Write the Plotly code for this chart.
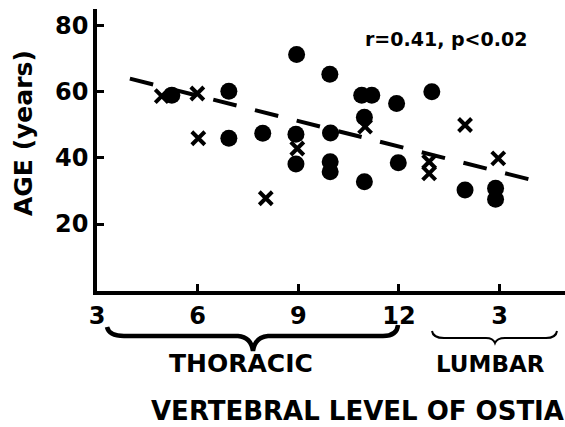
import plotly.graph_objects as go

# ---- data ----
circle_x = [5.23, 6.93, 6.93, 7.94, 8.95, 8.93, 8.93, 9.94, 9.96, 9.95, 9.95,
            10.89, 11.19, 11.93, 12.98, 10.97, 11.98, 10.97, 13.97, 14.88, 14.88]
circle_y = [58.9, 60.1, 45.9, 47.4, 71.2, 47.1, 38.1, 65.2, 47.5, 38.8, 35.8,
            58.9, 58.9, 56.4, 59.9, 52.2, 38.5, 32.8, 30.3, 30.8, 27.5]
cross_x = [4.93, 5.99, 6.02, 8.03, 8.97, 10.99, 12.9, 12.9, 13.97, 14.96]
cross_y = [58.6, 59.4, 45.9, 27.8, 42.8, 49.4, 38.8, 35.3, 49.9, 39.8]
trend_x = [3.98, 16.35]
trend_y = [63.9, 32.3]
x_tick_vals = [3, 6, 9, 12, 15]
x_tick_text = ["3", "6", "9", "12", "3"]
y_tick_vals = [20, 40, 60, 80]

FONT = "DejaVu Sans, Verdana, sans-serif"
W, H = 565, 427
ML, MR, MT, MB = 97, 0, 9, 136
PW, PH = W - ML - MR, H - MT - MB


def px(x):
    return (x - ML) / PW


def py(y):
    return (H - MB - y) / PH


fig = go.Figure()
fig.add_trace(go.Scatter(x=trend_x, y=trend_y, mode="lines",
                         line=dict(color="black", width=4, dash="24px,19px"),
                         hoverinfo="skip"))
fig.add_trace(go.Scatter(x=circle_x, y=circle_y, mode="markers",
                         marker=dict(symbol="circle", size=17, color="black",
                                     line=dict(width=0))))
fig.add_trace(go.Scatter(x=cross_x, y=cross_y, mode="markers",
                         marker=dict(symbol="x-thin", size=13, color="black",
                                     line=dict(width=4, color="black"))))


def path(points, cmds):
    s = ""
    i = 0
    for c in cmds:
        if c in "ML":
            x, y = points[i]
            s += f"{c} {px(x):.4f},{py(y):.4f} "
            i += 1
        elif c == "Q":
            (x1, y1), (x2, y2) = points[i], points[i + 1]
            s += f"Q {px(x1):.4f},{py(y1):.4f} {px(x2):.4f},{py(y2):.4f} "
            i += 2
    return s


thor = path([(107, 327), (109, 336), (124, 336), (238, 336), (251, 337), (253, 351),
             (255, 337), (268, 336), (383, 336), (397, 336), (398, 325)],
            ["M", "Q", "L", "Q", "Q", "L", "Q"])
lumb = path([(432, 331), (433, 338), (444, 338), (486, 338), (493, 338), (495, 343),
             (497, 338), (505, 338), (546, 338), (556, 338), (557, 331)],
            ["M", "Q", "L", "Q", "Q", "L", "Q"])

fig.add_shape(type="path", path=thor, xref="paper", yref="paper",
              line=dict(color="black", width=4.5))
fig.add_shape(type="path", path=lumb, xref="paper", yref="paper",
              line=dict(color="black", width=2))


def ann(text, x, y, size, angle=0):
    fig.add_annotation(text=text, x=px(x), y=py(y), xref="paper", yref="paper",
                       showarrow=False, xanchor="center", yanchor="middle",
                       textangle=angle,
                       font=dict(family=FONT, size=size, color="black", weight="bold"))


ann("THORACIC", 241, 364, 25)
ann("LUMBAR", 490, 364, 23)
ann("VERTEBRAL LEVEL OF OSTIA", 357, 411, 26)
ann("r=0.41, p<0.02", 446, 39, 19)
ann("AGE (years)", 23, 133, 25, angle=-90)

fig.update_layout(
    width=W, height=H, margin=dict(l=ML, r=MR, t=MT, b=MB),
    paper_bgcolor="white", plot_bgcolor="white", showlegend=False,
    xaxis=dict(range=[3, 3 + PW / 33.55], tickvals=x_tick_vals, ticktext=x_tick_text,
               showgrid=False, zeroline=False, showline=True, linecolor="black",
               linewidth=3.5, ticks="inside", ticklen=7, tickwidth=3,
               tickcolor="black",
               tickfont=dict(family=FONT, size=24, color="black", weight="bold")),
    yaxis=dict(range=[-0.2, 84.9], tickvals=y_tick_vals,
               showgrid=False, zeroline=False, showline=True, linecolor="black",
               linewidth=3.5, ticks="inside", ticklen=7, tickwidth=3,
               tickcolor="black",
               tickfont=dict(family=FONT, size=24, color="black", weight="bold")),
)

fig.write_html("out.html", config={"displayModeBar": False},
               post_script="document.body.style.margin='0';document.body.style.overflow='hidden';")
